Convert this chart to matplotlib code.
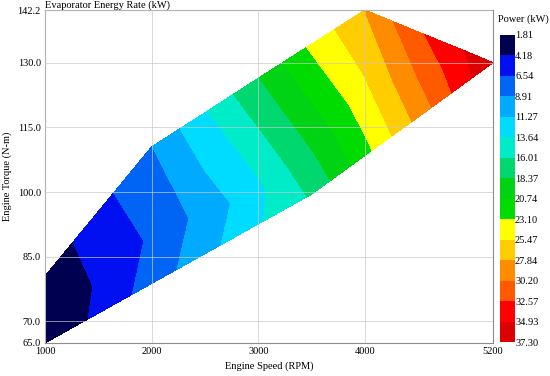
import numpy as np
import matplotlib
matplotlib.use("Agg")
import matplotlib.pyplot as plt

plt.rcParams["font.family"] = ["Liberation Serif", "DejaVu Serif"]

# -----------------------------
# Data
# -----------------------------
speed = [1000, 1500, 2000, 2500, 3000, 3500, 4000, 4500, 4900, 5200]

torque_low = [65.0, 71.9, 78.8, 85.7, 92.6, 99.5, 108.5, 117.4, 124.6, 130.0]
torque_mid = [71.0, 79.0, 90.3, 95.4, 99.5, 110.0, 125.0, 127.3, 128.8, 130.0]
torque_up = [80.5, 95.5, 110.5, 118.4, 126.4, 134.3, 142.2, 137.1, 133.1, 130.0]

power_low = [1.81, 4.73, 7.56, 10.40, 13.31, 16.26, 22.27, 28.60, 33.67, 37.30]
power_mid = [2.00, 4.43, 6.90, 9.78, 12.87, 18.40, 25.20, 30.40, 34.10, 37.30]
power_up = [2.60, 5.60, 8.85, 13.40, 18.30, 23.60, 27.90, 32.20, 34.60, 37.30]

levels = [1.81, 4.18, 6.54, 8.91, 11.27, 13.64, 16.01, 18.37, 20.74,
          23.10, 25.47, 27.84, 30.20, 32.57, 34.93, 37.30]

band_colors = ["#000050", "#0010f0", "#0064f5", "#00aaff", "#00dcff",
               "#00ebc8", "#00d76e", "#00d214", "#00dc00", "#ffff00",
               "#ffcd00", "#ff8c00", "#ff5a00", "#ff0000", "#dc0000"]

x_ticks = [1000, 2000, 3000, 4000, 5200]
y_ticks = [65.0, 70.0, 85.0, 100.0, 115.0, 130.0, 142.2]

# -----------------------------
# Grid
# -----------------------------
X = np.array([speed, speed, speed], dtype=float)
Y = np.array([torque_low, torque_mid, torque_up])
Z = np.array([power_low, power_mid, power_up])

# -----------------------------
# Plot
# -----------------------------
fig = plt.figure(figsize=(5.5, 3.76), dpi=100)
ax = fig.add_axes([45 / 550, 33 / 376, 448 / 550, 333 / 376])

cs = ax.contourf(X, Y, Z, levels=levels, colors=band_colors)

ax.set_xlim(1000, 5200)
ax.set_ylim(65, 142.2)
ax.set_xticks(x_ticks)
ax.set_yticks(y_ticks)
ax.set_yticklabels([f"{v:.1f}" for v in y_ticks])
ax.tick_params(length=0, labelsize=7.5, pad=3)
ax.grid(True, color="#c8c8c8", linewidth=0.7, alpha=0.7)
ax.set_axisbelow(False)
for s in ax.spines.values():
    s.set_color("#8c8c8c")
    s.set_linewidth(0.8)

ax.set_xlabel("Engine Speed (RPM)", fontsize=7.5, labelpad=4)
ax.set_ylabel("Engine Torque (N-m)", fontsize=7.5, labelpad=4)
ax.set_title("Evaporator Energy Rate (kW)", fontsize=7.5, loc="left", pad=1)

# -----------------------------
# Colorbar
# -----------------------------
cax = fig.add_axes([500 / 550, 34 / 376, 15 / 550, 307 / 376])
cb = fig.colorbar(cs, cax=cax, ticks=levels)
cb.outline.set_visible(False)
cax.invert_yaxis()
cax.set_yticklabels([f"{v:.2f}" for v in levels])
cax.tick_params(length=0, labelsize=7.5, pad=0)
fig.text(498 / 550, 1 - 19 / 376, "Power (kW)", fontsize=7.5,
         ha="left", va="center")

fig.savefig("out.png", dpi=100)
